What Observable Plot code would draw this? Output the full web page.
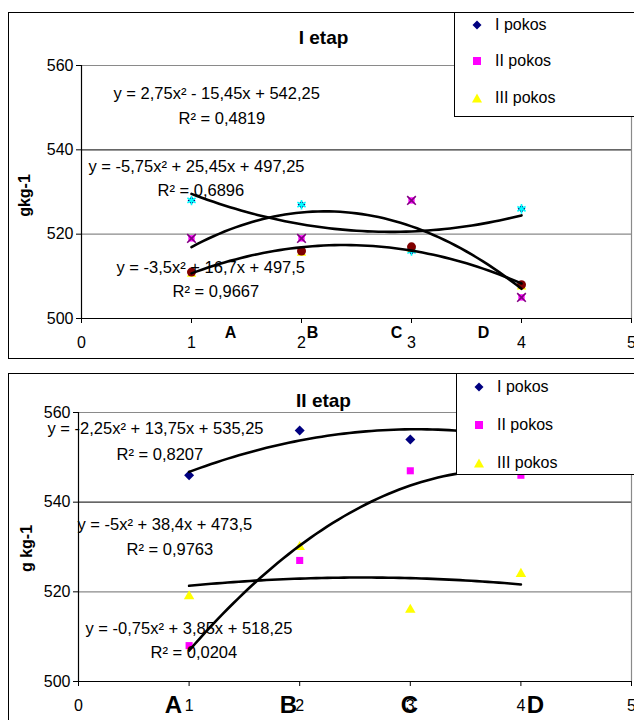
<!DOCTYPE html>
<html>
<head>
<meta charset="utf-8">
<script src="https://cdn.jsdelivr.net/npm/d3@7"></script>
<script src="https://cdn.jsdelivr.net/npm/@observablehq/plot@0.6"></script>
<style>
  body { margin: 0; background: #fff; font-family: "Liberation Sans", Arial, sans-serif; }
  #page { position: relative; width: 634px; height: 720px; overflow: hidden; background: #fff; }
  .box { position: absolute; border: 1.5px solid #000; box-sizing: border-box; }
  .chart { position: absolute; left: 0; }
  .legend { position: absolute; background: #fff; border: 1px solid #000; box-sizing: border-box; font-size: 16px; color: #000; }
  .legend .item { position: absolute; left: 0; display: flex; align-items: center; white-space: nowrap; }
  .legend svg { display: block; }
</style>
</head>
<body>
<div id="page"></div>
<script>
// ---------- data ----------
const xTicks = [0, 1, 2, 3, 4, 5];
const yTicks = [500, 520, 540, 560];
const xs = [1, 2, 3, 4];
const categories = ["A", "B", "C", "D"];
const seriesNames = ["I pokos", "II pokos", "III pokos"];

// I etap
const titleI = "I etap";
const yLabelI = "gkg-1";
const etapI_pokosI = [528, 527, 516, 526];
const etapI_pokosII = [519, 519, 528, 505];
const etapI_pokosIII = [511, 516, 517, 508];
const etapI_coefI = [2.75, -15.45, 542.25];
const etapI_coefII = [-5.75, 25.45, 497.25];
const etapI_coefIII = [-3.5, 16.7, 497.5];
const etapI_eq = ["y = 2,75x² - 15,45x + 542,25", "y = -5,75x² + 25,45x + 497,25", "y = -3,5x² + 16,7x + 497,5"];
const etapI_r2 = ["R² = 0,4819", "R² = 0,6896", "R² = 0,9667"];

// II etap
const titleII = "II etap";
const yLabelII = "g kg-1";
const etapII_pokosI = [546, 556, 554, 555];
const etapII_pokosII = [508, 527, 547, 546];
const etapII_pokosIII = [519, 530, 516, 524];
const etapII_coefI = [-2.25, 13.75, 535.25];
const etapII_coefII = [-5, 38.4, 473.5];
const etapII_coefIII = [-0.75, 3.85, 518.25];
const etapII_eq = ["y = -2,25x² + 13,75x + 535,25", "y = -5x² + 38,4x + 473,5", "y = -0,75x² + 3,85x + 518,25"];
const etapII_r2 = ["R² = 0,8207", "R² = 0,9763", "R² = 0,0204"];

// ---------- helpers ----------
const page = document.getElementById("page");
const FONT = "Liberation Sans, Arial, sans-serif";

function pts(vals) { return xs.map((x, i) => ({x, y: vals[i]})); }
function curve(c) {
  return d3.range(1, 4.0001, 0.05).map(x => ({x, y: c[0] * x * x + c[1] * x + c[2]}));
}

function buildPanel(cfg) {
  const m = cfg.margin;
  const label = (text, px, py, o = {}) => Plot.text([text], {
    text: d => d, frameAnchor: "top-left",
    dx: px - m.left, dy: py - m.top,
    textAnchor: o.anchor || "start", lineAnchor: "middle",
    fontSize: o.size || 16.5, fontWeight: o.weight || "normal",
    rotate: o.rotate || 0, fill: "#000"
  });

  const marks = [
    Plot.ruleY(cfg.gridLight, {stroke: "#8a8a8a", strokeWidth: 1.2}),
    Plot.ruleY(cfg.gridDark, {stroke: "#333", strokeWidth: 1.2}),
    Plot.ruleX([5], {y1: 500, y2: 560, stroke: "#8a8a8a", strokeWidth: 1.2}),
    Plot.ruleX([0], {y1: 500, y2: 560, stroke: "#000", strokeWidth: 1.2}),
    Plot.ruleY([500], {stroke: "#000", strokeWidth: 1.2}),
    Plot.axisY(yTicks, {tickSize: 5, tickPadding: 3, fontSize: 16, label: null, stroke: "#000"}),
    Plot.axisX(xTicks, {tickSize: 5, tickPadding: cfg.xPad, fontSize: 16, label: null, stroke: "#000"}),
  ];

  marks.push(...cfg.dots);

  cfg.coefs.forEach(c => marks.push(Plot.line(curve(c), {x: "x", y: "y", stroke: "#000", strokeWidth: 2.6, curve: "linear"})));

  marks.push(label(cfg.title, cfg.titlePos[0], cfg.titlePos[1], {anchor: "middle", size: 19, weight: "bold"}));
  marks.push(label(cfg.yLabel, cfg.yLabelPos[0], cfg.yLabelPos[1], {anchor: "middle", size: 16, weight: "bold", rotate: -90}));
  cfg.eqs.forEach((t, i) => marks.push(label(t, cfg.eqPos[i][0], cfg.eqPos[i][1])));
  cfg.r2s.forEach((t, i) => marks.push(label(t, cfg.r2Pos[i][0], cfg.r2Pos[i][1])));
  categories.forEach((t, i) => marks.push(label(t, cfg.catX[i], cfg.catY, {anchor: "middle", size: cfg.catSize, weight: "bold"})));

  const svg = Plot.plot({
    width: 634, height: 360,
    marginLeft: m.left, marginRight: m.right, marginTop: m.top, marginBottom: m.bottom,
    x: {domain: [0, 5]}, y: {domain: [500, 560]},
    style: {fontFamily: FONT, color: "#000", background: "transparent", overflow: "visible"},
    marks
  });
  const wrap = document.createElement("div");
  wrap.className = "chart";
  wrap.style.top = cfg.top + "px";
  wrap.appendChild(svg);
  page.appendChild(wrap);
}

function addBox(left, top, width, height) {
  const b = document.createElement("div");
  b.className = "box";
  Object.assign(b.style, {left: left + "px", top: top + "px", width: width + "px", height: height + "px"});
  page.appendChild(b);
}

const symbolsSvg = [
  '<svg width="12" height="12"><polygon points="6,1.5 10.5,6 6,10.5 1.5,6" fill="#000080"/></svg>',
  '<svg width="12" height="12"><rect x="2" y="2" width="8" height="8" fill="#ff00ff"/></svg>',
  '<svg width="12" height="12"><polygon points="6,1.5 11,10.5 1,10.5" fill="#ffff00"/></svg>'
];
function addLegend(left, top, width, height, rowsY) {
  const L = document.createElement("div");
  L.className = "legend";
  Object.assign(L.style, {left: left + "px", top: top + "px", width: width + "px", height: height + "px"});
  seriesNames.forEach((name, i) => {
    const it = document.createElement("div");
    it.className = "item";
    it.style.top = (rowsY[i] - top - 10) + "px";
    it.style.height = "20px";
    it.innerHTML = `<span style="margin-left:16px;width:24px">${symbolsSvg[i]}</span><span>${name}</span>`;
    L.appendChild(it);
  });
  page.appendChild(L);
}

// ---------- panel I ----------
addBox(8, 12, 640, 347);
buildPanel({
  top: 0,
  margin: {left: 81, right: 3, top: 65, bottom: 42},
  xPad: 13,
  gridLight: [520, 560], gridDark: [540],
  title: titleI, titlePos: [323, 37],
  yLabel: yLabelI, yLabelPos: [24, 195],
  coefs: [etapI_coefI, etapI_coefII, etapI_coefIII],
  eqs: etapI_eq, r2s: etapI_r2,
  eqPos: [[113, 93], [88, 166], [116, 267]],
  r2Pos: [[178, 118], [157, 190], [172, 291]],
  catX: [230, 312, 396, 483], catY: 332, catSize: 16,
  dots: [
    Plot.dot(pts(etapI_pokosI), {x: "x", y: "y", symbol: "diamond2", fill: "#000080", r: 3.5}),
    Plot.dot(pts(etapI_pokosI), {x: "x", y: "y", symbol: "asterisk", stroke: "#00ffff", strokeWidth: 1.6, r: 4.5}),
    Plot.dot(pts(etapI_pokosII), {x: "x", y: "y", symbol: "square2", fill: "#ff00ff", r: 4}),
    Plot.dot(pts(etapI_pokosII), {x: "x", y: "y", symbol: "times", stroke: "#800080", strokeWidth: 1.6, r: 4}),
    Plot.dot(pts(etapI_pokosIII), {x: "x", y: "y", symbol: "triangle2", fill: "#ffff00", r: 4.5, dy: 2}),
    Plot.dot(pts(etapI_pokosIII), {x: "x", y: "y", symbol: "circle", fill: "#800000", r: 4.5})
  ]
});
addLegend(454, 12, 190, 105, [24, 60, 97]);

// ---------- panel II ----------
addBox(8, 373, 640, 360);
buildPanel({
  top: 360,
  margin: {left: 78, right: 3, top: 52, bottom: 39},
  xPad: 13,
  gridLight: [520, 560], gridDark: [540],
  title: titleII, titlePos: [323, 40],
  yLabel: yLabelII, yLabelPos: [26, 188],
  coefs: [etapII_coefI, etapII_coefII, etapII_coefIII],
  eqs: etapII_eq, r2s: etapII_r2,
  eqPos: [[47, 68], [77, 164], [85, 268]],
  r2Pos: [[116, 94], [126, 189], [150, 292]],
  catX: [173, 288, 409, 535], catY: 345, catSize: 24,
  dots: [
    Plot.dot(pts(etapII_pokosI), {x: "x", y: "y", symbol: "diamond2", fill: "#000080", r: 4.5}),
    Plot.dot(pts(etapII_pokosII), {x: "x", y: "y", symbol: "square2", fill: "#ff00ff", r: 4.5}),
    Plot.dot(pts(etapII_pokosIII), {x: "x", y: "y", symbol: "triangle2", fill: "#ffff00", r: 5})
  ]
});
addLegend(456, 373, 190, 102, [386, 424, 462]);
</script>
</body>
</html>
